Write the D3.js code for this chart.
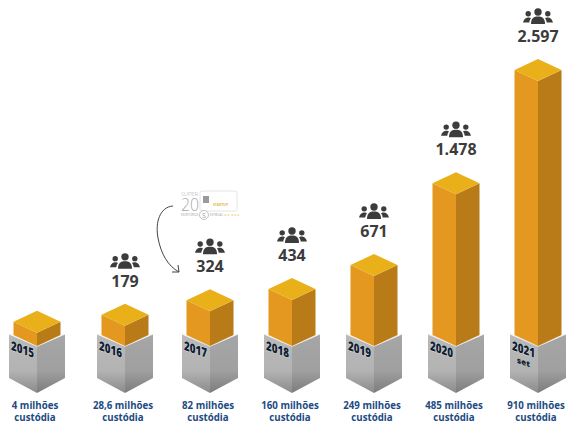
<!DOCTYPE html>
<html><head><meta charset="utf-8">
<script src="https://cdn.jsdelivr.net/npm/d3@7"></script>
<style>html,body{margin:0;padding:0;background:#fff}svg{display:block}text{font-family:"Open Sans",sans-serif}</style>
</head><body><div id="c"></div>
<script>
const years=["2015","2016","2017","2018","2019","2020","2021"];
const clients=[110,179,324,434,671,1478,2597];
const clientLabels=["","179","324","434","671","1.478","2.597"];
const custody=["4 milhões","28,6 milhões","82 milhões","160 milhões","249 milhões","485 milhões","910 milhões"];
const custodyLine2=["custódia","custódia","custódia","custódia","custódia","custódia","custódia"];
const yearNotes=["","","","","","","set"];

const W=571,H=423;
const svg=d3.select("#c").append("svg").attr("width",W).attr("height",H);
const x=d3.scaleLinear().domain([0,1,2,6]).range([37,125,210,538]);
const y=d3.scaleLinear().domain([0,2597]).range([344,81]);
const defs=svg.append("defs");
function grad(id,c){const g=defs.append("linearGradient").attr("id",id).attr("x1",0).attr("y1",0).attr("x2",0).attr("y2",1);
 c.forEach(([o,col])=>g.append("stop").attr("offset",o).attr("stop-color",col));}
grad("bl",[[0,"#b9b9b9"],[.62,"#b3b3b3"],[1,"#8b8b8b"]]);
grad("br",[[0,"#a6a6a6"],[.62,"#a0a0a0"],[1,"#7c7c7c"]]);

const bw=28,bTop=346,bTopSide=334,bBot=393,bBotSide=378,bar=23.5,dia=11,barBase=346;
const g=svg.selectAll("g.col").data(years.map((yr,i)=>({yr,i,v:clients[i],lab:clientLabels[i],c:custody[i],c2:custodyLine2[i],n:yearNotes[i]})))
 .join("g").attr("class","col").attr("transform",d=>`translate(${x(d.i)},0)`);

// base
g.append("path").attr("fill","url(#bl)").attr("d",`M${-bw},${bTopSide} L0,${bTop} L0,${bBot} L${-bw},${bBotSide}Z`);
g.append("path").attr("fill","url(#br)").attr("d",`M${bw},${bTopSide} L0,${bTop} L0,${bBot} L${bw},${bBotSide}Z`);
g.append("path").attr("fill","none").attr("stroke","#f1f1f1").attr("stroke-width",1.2)
 .attr("d",`M${-bw},${bTopSide} L0,${bTop} L${bw},${bTopSide}`);

// bar
g.append("path").attr("fill","#e4981f").attr("d",d=>`M${-bar},${y(d.v)-dia} L0,${y(d.v)} L0,${barBase} L${-bar},${barBase-dia}Z`);
g.append("path").attr("fill","#b97b18").attr("d",d=>`M${bar},${y(d.v)-dia} L0,${y(d.v)} L0,${barBase} L${bar},${barBase-dia}Z`);
g.append("path").attr("fill","#e9b01a").attr("d",d=>`M0,${y(d.v)-2*dia} L${bar},${y(d.v)-dia} L0,${y(d.v)} L${-bar},${y(d.v)-dia}Z`);

// year on base, skewed along the left face
const yl=g.append("g").attr("transform",`translate(-14.5,${bTop+4}) skewY(19)`);
yl.append("text").attr("text-anchor","middle").attr("y",4).attr("font-size",13).attr("font-weight",800)
 .attr("textLength",23).attr("lengthAdjust","spacingAndGlyphs")
 .attr("fill","#0f2233").attr("stroke","#e8e8e8").attr("stroke-width",.8).attr("paint-order","stroke").text(d=>d.yr);
yl.append("text").attr("text-anchor","middle").attr("y",15).attr("font-size",8).attr("font-weight",800)
 .attr("fill","#0f2233").text(d=>d.n);

// custody labels
g.append("text").attr("text-anchor","middle").attr("x",-2).attr("y",409).attr("font-size",9.7).attr("font-weight",700).attr("fill","#1d4a82").text(d=>d.c);
g.append("text").attr("text-anchor","middle").attr("x",-2).attr("y",421).attr("font-size",9.7).attr("font-weight",700).attr("fill","#1d4a82").text(d=>d.c2);

// client counts and icon
const lab=g.filter(d=>d.lab);
lab.append("text").attr("text-anchor","middle").attr("y",d=>y(d.v)-2*dia-17).attr("font-size",16).attr("font-weight",700).attr("fill","#3c3c3c").text(d=>d.lab);
const ic=lab.append("g").attr("transform",d=>`translate(0,${y(d.v)-2*dia-42})`).attr("fill","#3c3c3c");
ic.append("circle").attr("cy",-5).attr("r",3.7);
ic.append("circle").attr("cx",-9.8).attr("cy",-3.2).attr("r",2.7);
ic.append("circle").attr("cx",9.8).attr("cy",-3.2).attr("r",2.7);
ic.append("path").attr("d","M-7,7 C-7,1 -4,-.5 0,-.5 C4,-.5 7,1 7,7Z");
ic.append("path").attr("d","M-15,5.5 C-14,1.5 -11.5,.5 -9.5,.5 C-8.5,.5 -7.5,.8 -7,1.2 C-8,2.5 -8.6,4 -8.7,5.5Z");
ic.append("path").attr("d","M15,5.5 C14,1.5 11.5,.5 9.5,.5 C8.5,.5 7.5,.8 7,1.2 C8,2.5 8.6,4 8.7,5.5Z");

// curved arrow
svg.append("path").attr("fill","none").attr("stroke","#444").attr("stroke-width",1)
 .attr("d","M173,206 C160,207 155,222 158,238 C161,254 168,266 179,272 M172,272 L179,272 L178,265");

// award badge
const b=svg.append("g");
b.append("rect").attr("x",200).attr("y",191).attr("width",37).attr("height",20).attr("rx",2).attr("fill","#fff").attr("stroke","#e4e4e4");
b.append("text").attr("x",181).attr("y",195.5).attr("font-size",6).attr("textLength",17).attr("fill","#a8a8a8").attr("font-weight",300).text("SUPER");
b.append("text").attr("x",181).attr("y",211).attr("font-size",18).attr("textLength",18).attr("lengthAdjust","spacingAndGlyphs").attr("fill","#a8a8a8").attr("font-weight",300).text("20");
b.append("rect").attr("x",203).attr("y",196).attr("width",6).attr("height",7).attr("fill","#9a9a9a");
b.append("text").attr("x",213).attr("y",205.5).attr("font-size",3.4).attr("fill","#e7b84a").attr("font-weight",700).text("STARTUP");
b.append("text").attr("x",181).attr("y",215.5).attr("font-size",2.8).attr("fill","#a0a0a0").text("ESCRITÓRIOS");
b.append("circle").attr("cx",204).attr("cy",215).attr("r",4.5).attr("fill","#fff").attr("stroke","#c4c4c4");
b.append("text").attr("x",204).attr("y",217.5).attr("text-anchor","middle").attr("font-size",7).attr("fill","#9a9a9a").text("S");
b.append("text").attr("x",210).attr("y",215.5).attr("font-size",2.8).attr("fill","#a0a0a0").text("ESTRELAS");
b.append("text").attr("x",224).attr("y",216).attr("font-size",3.4).attr("letter-spacing",.3).attr("fill","#eec643").text("★★★★★");
</script></body></html>
